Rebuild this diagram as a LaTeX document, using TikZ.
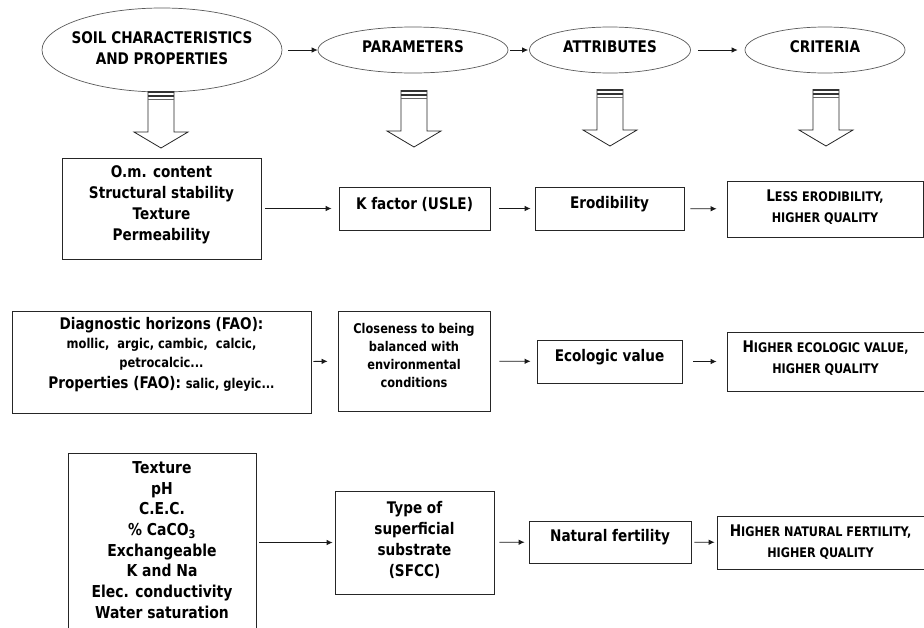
\documentclass[tikz,border=0pt]{standalone}
\usepackage{fontspec}
\setmainfont{DejaVu Sans}[FakeStretch=0.85]
\usetikzlibrary{arrows.meta,shapes.geometric}

% type sizes (1pt = 1px of the final page)
\newcommand\bigsz{\fontsize{16}{21}\selectfont}
\newcommand\midsz{\fontsize{13.4}{18}\selectfont}
\newcommand\smlsz{\fontsize{13.5}{16}\selectfont}
\newcommand\capsz{\fontsize{13.2}{21}\selectfont}

\tikzset{
  ellip/.style={ellipse, draw=black!65, line width=0.7pt, inner sep=0pt},
  box/.style={rectangle, draw=black!85, line width=0.8pt, inner sep=0pt},
  txt/.style={align=center, font=\bigsz\bfseries, text=black},
  flow/.style={-{Latex[length=6pt,width=5.5pt]}, line width=0.8pt, draw=black!90},
  gaps/.style 2 args={shorten <=#1pt, shorten >=#2pt},
  stripedarrow/.pic={
    \draw[line width=0.8pt, draw=black!85, line join=miter]
      (-13,0) -- (-13,41) -- (-27,41) -- (0,57) -- (27,41) -- (13,41) -- (13,0);
    \draw[line width=2.4pt, draw=black!80] (-13,1.2) -- (13,1.2);
    \draw[line width=1.4pt, draw=black!80] (-13,4.8) -- (13,4.8);
    \draw[line width=1pt, draw=black!60] (-13,8) -- (13,8);
  }
}

\begin{document}
\begin{tikzpicture}[x=1pt, y=-1pt]
\clip (0,0) rectangle (924,627);
\fill[white] (0,0) rectangle (924,627);

% header ellipses
\node[ellip, minimum width=240, minimum height=84,
      label={[txt, yshift=1.5]center:SOIL CHARACTERISTICS\\AND PROPERTIES}] (e1) at (162,50) {};
\node[ellip, minimum width=190, minimum height=46,
      label={[txt, yshift=3]center:PARAMETERS}] (e2) at (413,50) {};
\node[ellip, minimum width=161, minimum height=46,
      label={[txt, yshift=3]center:ATTRIBUTES}] (e3) at (610,50) {};
\node[ellip, minimum width=160, minimum height=46,
      label={[txt, yshift=3]center:CRITERIA}] (e4) at (825,50) {};

\draw[flow, gaps={6}{0}] (e1) -- (e2);
\draw[flow, gaps={2}{1}] (e2) -- (e3);
\draw[flow, gaps={7}{7}] (e3) -- (e4);

% striped block arrows under the headers
\pic at (161,91) {stripedarrow};
\pic at (414,90) {stripedarrow};
\pic at (610,89) {stripedarrow};
\pic at (826,89) {stripedarrow};

% row 1: erodibility
\node[box, minimum width=199, minimum height=101,
      label={[txt, yshift=4]center:O.m. content\\Structural stability\\Texture\\Permeability}] (b1) at (161.5,208.5) {};
\node[box, minimum width=151, minimum height=43,
      label={[txt, yshift=4]center:K factor (USLE)}] (b2) at (414.5,208.5) {};
\node[box, minimum width=149, minimum height=43,
      label={[txt, yshift=4]center:Erodibility}] (b3) at (609.5,208.5) {};
\node[box, minimum width=196, minimum height=56,
      label={[txt, yshift=1.5]center:L{\capsz ESS ERODIBILITY,}\\{\capsz HIGHER QUALITY}}] (b4) at (825,209) {};

\draw[flow, gaps={4}{7}] (b1) -- (b2);
\draw[flow, gaps={9}{4}] (b2) -- (b3);
\draw[flow, gaps={6}{10}] (b3) -- (b4);

% row 2: ecologic value
\node[box, minimum width=299, minimum height=102,
      label={[txt, yshift=7]center:Diagnostic horizons (FAO):\\[-2pt]{\smlsz mollic,\ \ argic, cambic,\ \ calcic,}\\[-2pt]{\smlsz petrocalcic...}\\Properties (FAO): {\smlsz salic,\ gleyic...}}] (c1) at (161.5,362) {};
\node[box, minimum width=152, minimum height=100,
      label={[txt, font=\midsz\bfseries, yshift=6]center:Closeness to being\\balanced with\\environmental\\conditions}] (c2) at (414,361) {};
\node[box, minimum width=145, minimum height=43,
      label={[txt, yshift=4]center:Ecologic value}] (c3) at (609.5,361.5) {};
\node[box, minimum width=197, minimum height=59,
      label={[txt, yshift=3]center:H{\capsz IGHER ECOLOGIC VALUE,}\\{\capsz HIGHER QUALITY}}] (c4) at (825.5,361.5) {};

\draw[flow, gaps={2}{10}] (c1) -- (c2);
\draw[flow, gaps={9}{6}] (c2) -- (c3);
\draw[flow, gaps={11}{10}] (c3) -- (c4);

% row 3: natural fertility
\node[box, anchor=north, minimum width=188, minimum height=220,
      label={[txt, anchor=north, yshift=-5, font=\fontsize{16.4}{20.7}\selectfont\bfseries]north:Texture\\pH\\C.E.C.\\\% CaCO\textsubscript{3}\\Exchangeable\\K and Na\\Elec. conductivity\\Water saturation}] (d1) at (162,453) {};
\node[box, minimum width=159, minimum height=103,
      label={[txt, yshift=3]center:Type of\\superficial\\substrate\\(SFCC)}] (d2) at (414.5,542.5) {};
\node[box, minimum width=162, minimum height=42,
      label={[txt, yshift=5]center:Natural fertility}] (d3) at (610,542) {};
\node[box, minimum width=207, minimum height=53,
      label={[txt]center:H{\capsz IGHER NATURAL FERTILITY,}\\{\capsz HIGHER QUALITY}}] (d4) at (820.5,542.5) {};

\draw[flow, gaps={3}{2}] (d1.east |- d2) -- (d2);
\draw[flow, gaps={5}{4}] (d2) -- (d3);
\draw[flow, gaps={3}{2}] (d3) -- (d4);
\end{tikzpicture}
\end{document}
